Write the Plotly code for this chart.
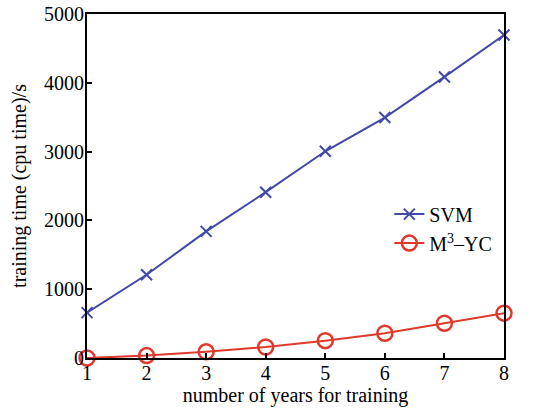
import plotly.graph_objects as go

years = [1, 2, 3, 4, 5, 6, 7, 8]
svm = [660, 1210, 1840, 2410, 3005, 3495, 4085, 4695]
m3yc = [0, 35, 90, 160, 252, 360, 505, 652]
yticks = [0, 1000, 2000, 3000, 4000, 5000]

blue = "#4048A8"
red = "#E0392B"
font = "Liberation Serif"
fs = 20

fig = go.Figure()
fig.add_trace(go.Scatter(x=years, y=svm, name="SVM", mode="lines+markers",
                         line=dict(color=blue, width=2),
                         marker=dict(symbol="x-thin", size=11, line=dict(color=blue, width=2)),
                         cliponaxis=False))
fig.add_trace(go.Scatter(x=years, y=m3yc, name="M<sup>3</sup>\u2013YC", mode="lines+markers",
                         line=dict(color=red, width=2),
                         marker=dict(symbol="circle-open", size=15, line=dict(color=red, width=2.5)),
                         cliponaxis=False))

axis_common = dict(showline=True, linecolor="black", linewidth=2, mirror=True,
                   ticks="inside", ticklen=5, tickcolor="black", tickwidth=1.5,
                   showgrid=False, zeroline=False, automargin=False,
                   tickfont=dict(family=font, size=fs, color="black"))
fig.update_xaxes(range=[1, 8], tickvals=years, ticklabelstandoff=-4,
                 title=dict(text="number of years for training",
                            font=dict(family=font, size=fs, color="black"), standoff=0), **axis_common)
fig.update_yaxes(range=[0, 5000], tickvals=yticks, ticklabelstandoff=-3,
                 title=dict(text="training time (cpu time)/s",
                            font=dict(family=font, size=fs, color="black"), standoff=12), **axis_common)

fig.update_layout(width=548, height=408, margin=dict(l=87, r=44, t=14, b=50),
                  plot_bgcolor="white", paper_bgcolor="white",
                  font=dict(family=font, color="black"),
                  legend=dict(x=0.725, y=0.475, xanchor="left", yanchor="top",
                              bgcolor="rgba(0,0,0,0)", font=dict(family=font, size=fs, color="black"),
                              itemwidth=30, tracegroupgap=0))
fig.write_html("out.html", config={"displayModeBar": False},
               post_script="document.body.style.margin='0';document.body.style.overflow='hidden';")
